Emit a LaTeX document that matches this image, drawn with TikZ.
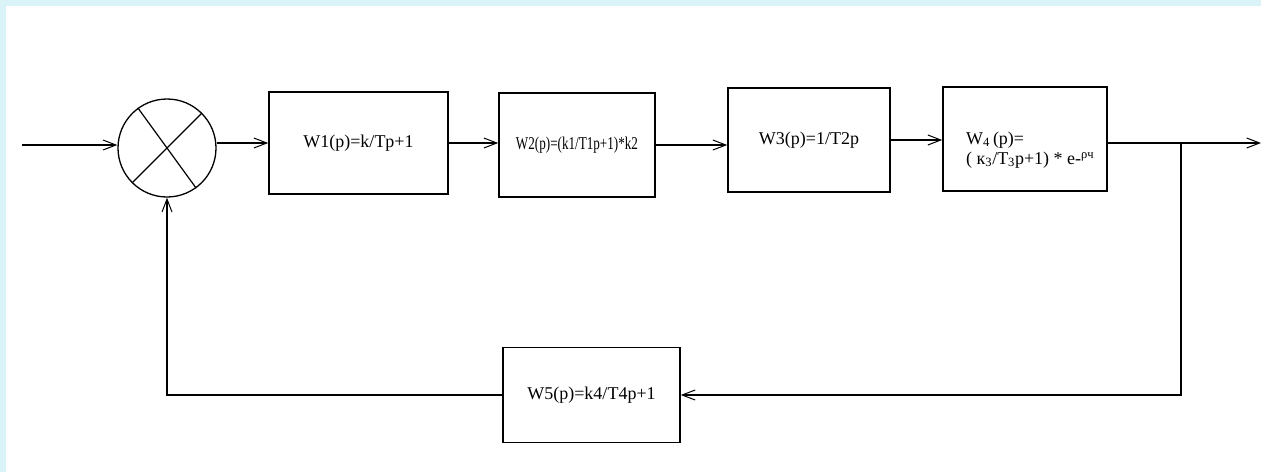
\documentclass[tikz,border=0pt]{standalone}
\usepackage{fontspec}
\setmainfont{Liberation Serif}
\usepackage{tikz}
\usetikzlibrary{arrows.meta}
\definecolor{edgeblue}{HTML}{DAF3F7}
\tikzset{%
  every block/.style={
    rectangle,
    draw,
    line width=1.5pt,
    font=\fontsize{18}{20}\selectfont
  },
  summer/.style={
    circle,
    draw,
    line width=1.3pt,
    minimum size=98pt,
    inner sep=0pt
  },
  link/.style={
    line width=1.5pt,
    -{Straight Barb[length=13pt,width=10pt,line width=1pt]}
  },
}

\begin{document}
\begin{tikzpicture}[x=1pt, y=-1pt]
\useasboundingbox (0,0) rectangle (1261,472);
\fill[edgeblue] (0,0) rectangle (1261,6);
\fill[edgeblue] (0,0) rectangle (6,472);

    % comparator
    \node[summer] (sum) at (167,148) {};
    \draw[line width=1.2pt] (sum.126) -- (sum.-54);
    \draw[line width=1.2pt] (sum.45) -- (sum.225);

    % forward path
    \node[every block, minimum width=179pt, minimum height=102pt] (w1) at (358.5,143) {W1(p)=k/Tp+1};
    \node[every block, minimum width=156pt, minimum height=104pt] (w2) at (577,145) {\scalebox{0.73}[1]{W2(p)=(k1/T1p+1)*k2}};
    \node[every block, minimum width=162pt, minimum height=104pt] (w3) at (809,140) {W3(p)=1/T2p};
    \node[every block, minimum width=164pt, minimum height=104pt] (w4) at (1025,139) {};
    \node[anchor=west, inner sep=0pt, align=left, font=\fontsize{18}{20}\selectfont] (w4text) at (966,150)
        {W\textsubscript{4}\,(p)=\\( к\textsubscript{3}/T\textsubscript{3}p+1) * e-\textsuperscript{ρч}};

    % feedback path
    \node[every block, minimum width=177pt, minimum height=95pt] (w5) at (591.5,395) {W5(p)=k4/T4p+1};

    \coordinate (in) at (22,145);
    \coordinate (out) at (1261,143);
    \coordinate (branch) at (1181,143);

   \draw[link] (in) -- (in -| sum.west);
   \draw[link] (sum.east |- w1.west) -- (w1.west);
   \draw[link] (w1.east) -- (w1.east -| w2.west);
   \draw[link] (w2.east) -- (w2.east -| w3.west);
   \draw[link] (w3.east) -- (w3.east -| w4.west);
   \draw[link] (w4.east |- out) -- (out);
   \draw[link] (branch) |- (w5.east);
   \draw[link] (w5.west) -| (sum.south);
\end{tikzpicture}
\end{document}
